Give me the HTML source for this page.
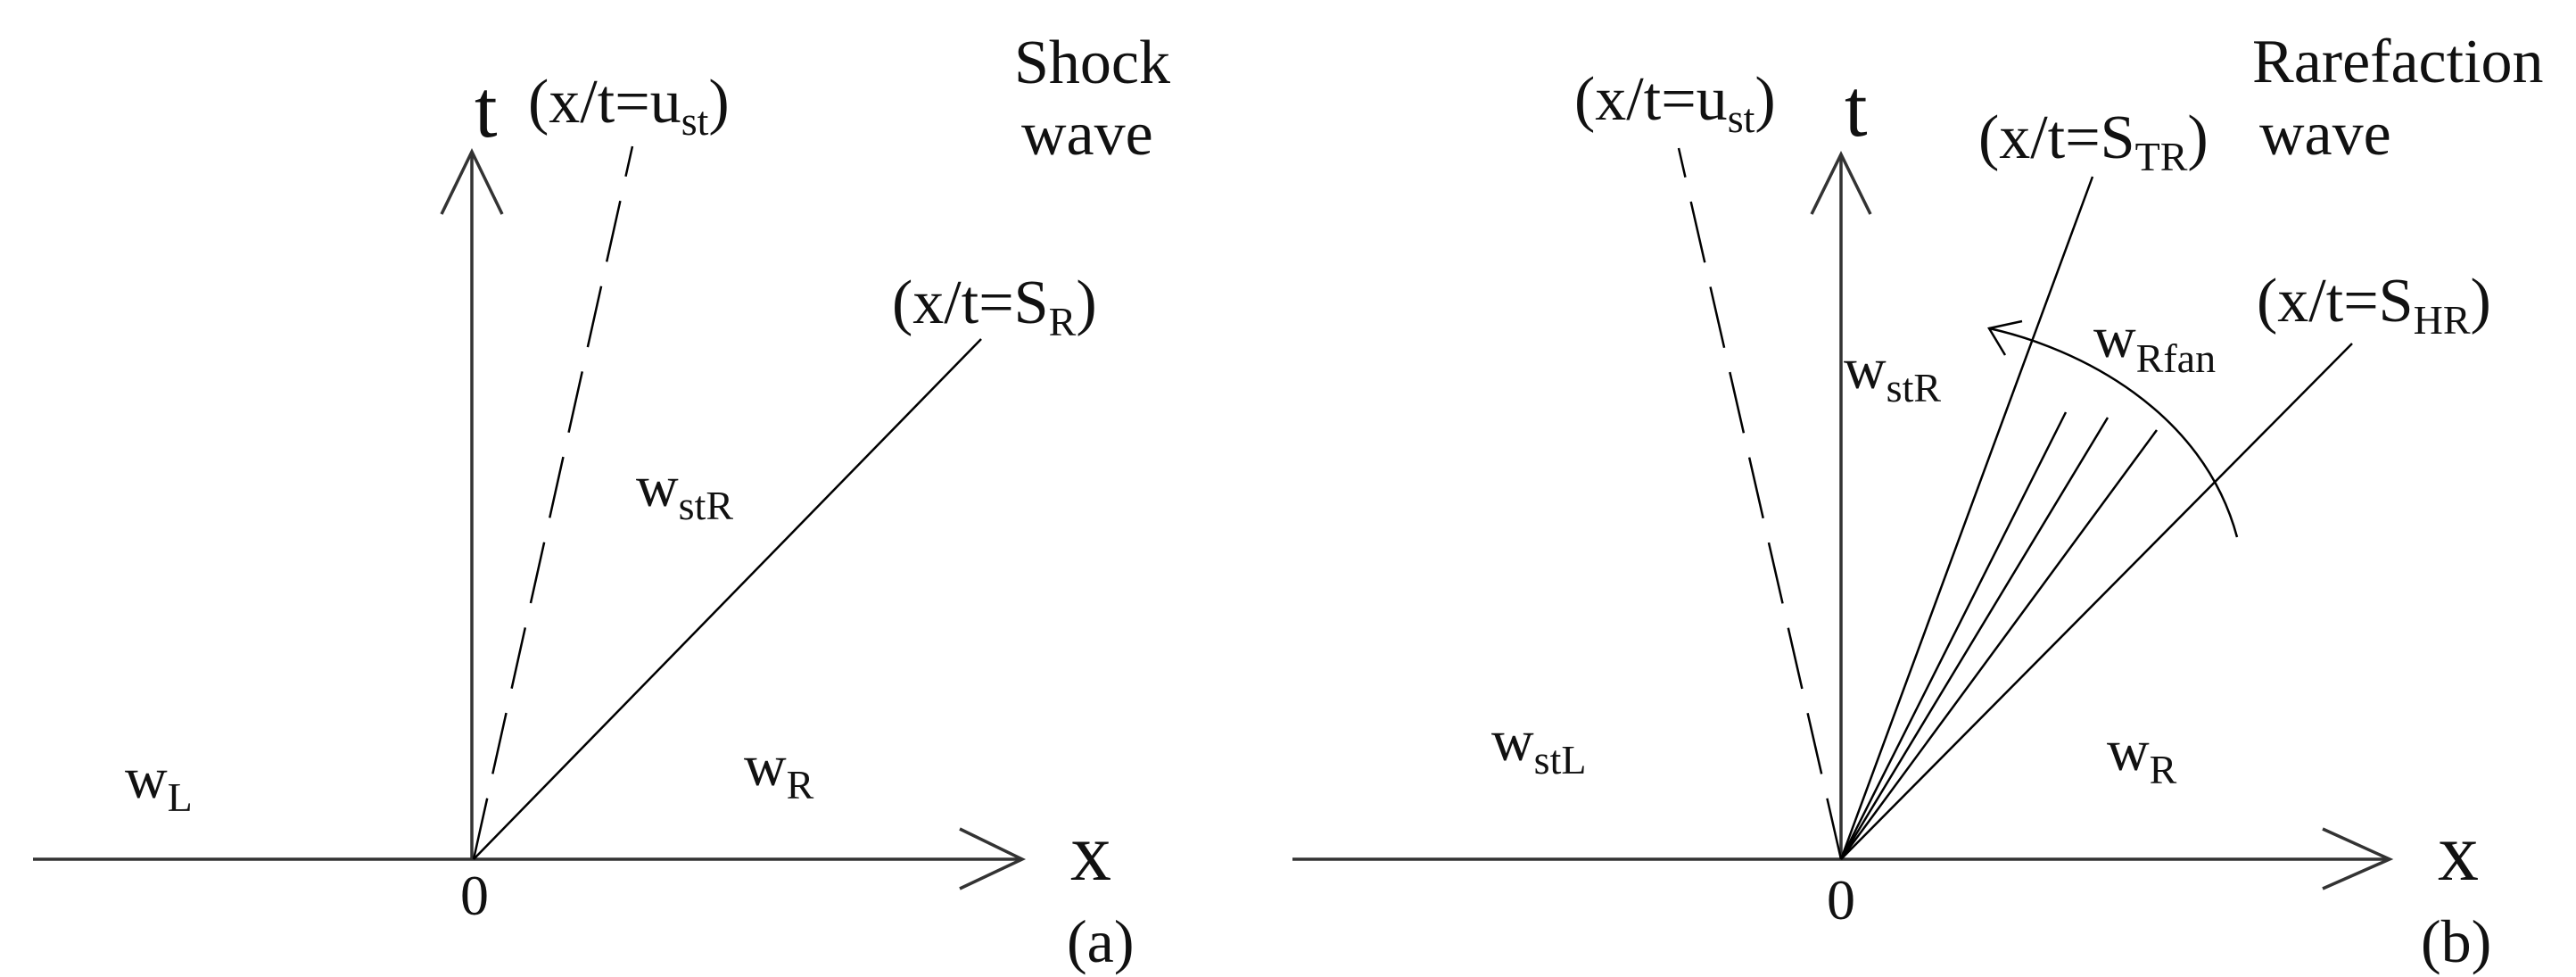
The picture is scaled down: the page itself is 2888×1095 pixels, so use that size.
<!DOCTYPE html>
<html><head><meta charset="utf-8"><style>
html,body{margin:0;padding:0;background:#fff}
svg{display:block}
text{font-family:"Liberation Serif",serif;fill:#111}
</style></head><body>
<svg width="2888" height="1095" viewBox="0 0 2888 1095" xmlns="http://www.w3.org/2000/svg">
<g stroke="#333" stroke-width="3.5" fill="none">
<line x1="37" y1="963" x2="1146" y2="963"/>
<polyline points="1076,929 1146,963 1076,996"/>
<line x1="529" y1="963" x2="529" y2="170"/>
<polyline points="495,240 529,170 563,240"/>
<line x1="1449" y1="963" x2="2679" y2="963"/>
<polyline points="2604,929 2679,963 2604,996"/>
<line x1="2064" y1="963" x2="2064" y2="173"/>
<polyline points="2031,240 2064,173 2097,240"/>
</g>
<g stroke="#000" stroke-width="2.5" fill="none">
<line x1="531" y1="963" x2="709" y2="164" stroke-dasharray="70 28"/>
<line x1="531" y1="963" x2="1100" y2="380"/>
<line x1="2064" y1="963" x2="1882" y2="166" stroke-dasharray="70 28"/>
<line x1="2064" y1="963" x2="2346" y2="198"/>
<line x1="2064" y1="963" x2="2637" y2="385"/>
<line x1="2064" y1="963" x2="2316" y2="462"/>
<line x1="2064" y1="963" x2="2363" y2="468"/>
<line x1="2064" y1="963" x2="2418" y2="482"/>
<path d="M2230,368 C2330,390 2470,460 2508,602"/>
<polyline points="2267,360 2230,368 2248,398"/>
</g>
<g font-size="70">
<text x="532" y="153" font-size="92">t</text>
<text x="592" y="137">(x/t=u<tspan font-size="46" dy="14">st</tspan><tspan dy="-14">)</tspan></text>
<text x="1137" y="93">Shock</text>
<text x="1145" y="173">wave</text>
<text x="1000" y="362">(x/t=S<tspan font-size="46" dy="14">R</tspan><tspan dy="-14">)</tspan></text>
<text x="713" y="567" font-size="66">w<tspan font-size="46" dy="15">stR</tspan></text>
<text x="834" y="880" font-size="66">w<tspan font-size="46" dy="15">R</tspan></text>
<text x="140" y="894" font-size="66">w<tspan font-size="46" dy="15">L</tspan></text>
<text x="516" y="1025" font-size="64">0</text>
<text x="1200" y="986" font-size="92">x</text>
<text x="1196" y="1078" font-size="68">(a)</text>

<text x="1765" y="134">(x/t=u<tspan font-size="46" dy="14">st</tspan><tspan dy="-14">)</tspan></text>
<text x="2068" y="152" font-size="92">t</text>
<text x="2218" y="177">(x/t=S<tspan font-size="46" dy="14">TR</tspan><tspan dy="-14">)</tspan></text>
<text x="2525" y="92">Rarefaction</text>
<text x="2533" y="173">wave</text>
<text x="2530" y="360">(x/t=S<tspan font-size="46" dy="14">HR</tspan><tspan dy="-14">)</tspan></text>
<text x="2347" y="400" font-size="66">w<tspan font-size="46" dy="17">Rfan</tspan></text>
<text x="2067" y="435" font-size="66">w<tspan font-size="46" dy="15">stR</tspan></text>
<text x="1672" y="852" font-size="66">w<tspan font-size="46" dy="15">stL</tspan></text>
<text x="2362" y="863" font-size="66">w<tspan font-size="46" dy="15">R</tspan></text>
<text x="2048" y="1030" font-size="64">0</text>
<text x="2733" y="986" font-size="92">x</text>
<text x="2714" y="1078" font-size="68">(b)</text>
</g>
</svg>
</body></html>
